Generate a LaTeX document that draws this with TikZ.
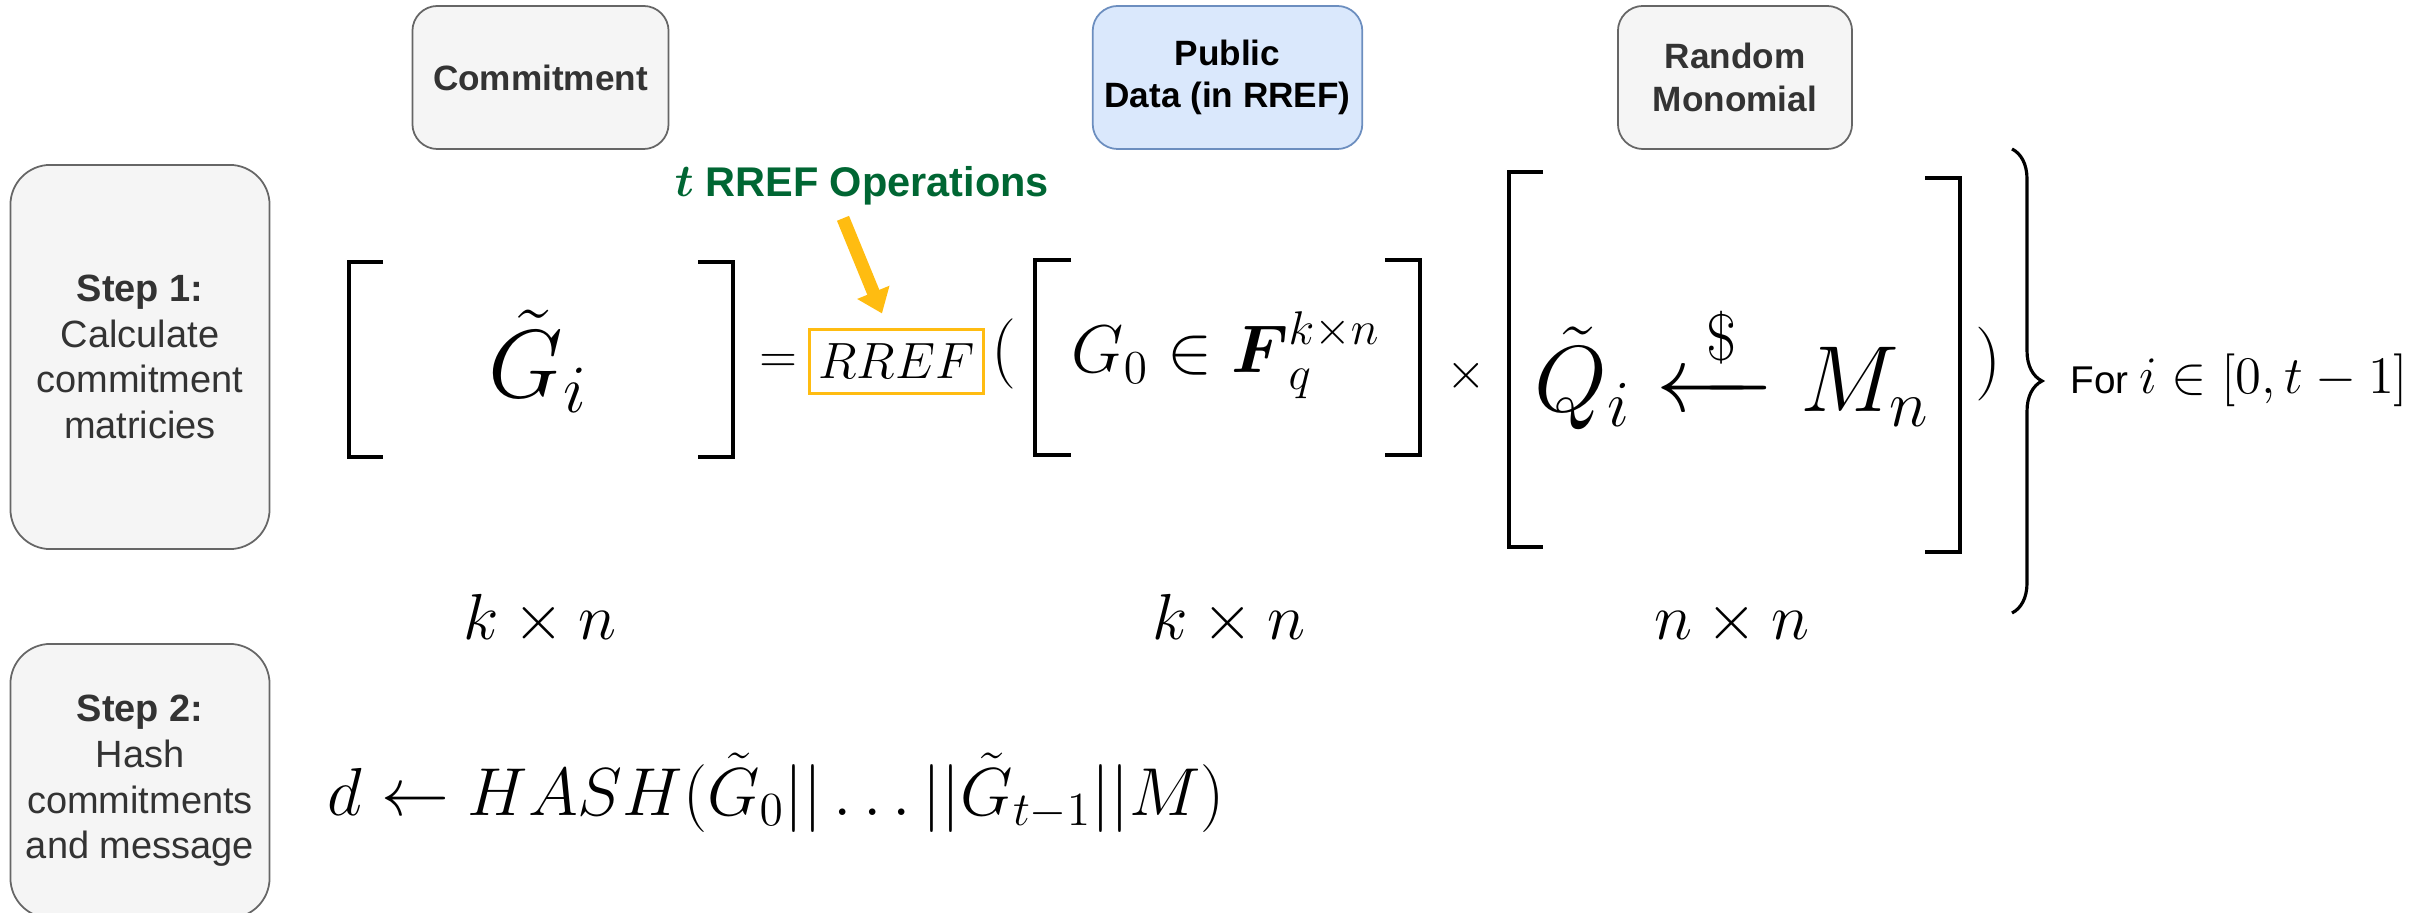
\RequirePackage{fix-cm}
\documentclass[tikz,border=0pt]{standalone}
\usepackage{amsmath}
\usepackage[no-math]{fontspec}
\newfontfamily\drawiofont{Liberation Sans}
\usepackage{tikz}
\usetikzlibrary{arrows.meta,positioning,decorations.pathreplacing}

\definecolor{boxfill}{HTML}{F5F5F5}
\definecolor{boxline}{HTML}{666666}
\definecolor{boxtext}{HTML}{333333}
\definecolor{pubfill}{HTML}{DAE8FC}
\definecolor{publine}{HTML}{6C8EBF}
\definecolor{opgreen}{HTML}{006633}
\definecolor{opyellow}{HTML}{FFBC11}

\newcommand{\msize}[1]{\fontsize{#1}{#1}\selectfont}

\begin{document}
\begin{tikzpicture}[
    x=0.01cm, y=-0.01cm,
    tagbox/.style={rectangle, rounded corners=0.25cm, draw=boxline, fill=boxfill, text=boxtext, line width=0.5pt, minimum width=2.56cm, minimum height=1.43cm, align=center, font=\drawiofont\bfseries\fontsize{10}{12}\selectfont},
    stepbox/.style={tagbox, rounded corners=0.4cm, minimum width=2.59cm, font=\drawiofont\fontsize{10.8}{13}\selectfont},
    eqn/.style={anchor=base, inner sep=0},
    mbracket/.style={line width=1.2pt},
    yarrow/.style={-{Triangle[length=6.5pt,width=9.5pt]}, line width=3.7pt, draw=opyellow}
]
\useasboundingbox (0,0) rectangle (2433,913);

% Header boxes
\node[tagbox] (commit) at (540.5,77.5) {Commitment};
\node[tagbox, fill=pubfill, draw=publine, text=black] (public) at (1227.5,77.5) {Public\\Data (in RREF)};
\node[tagbox, minimum width=2.34cm] (monomial) at (1735,77.5) {Random\\Monomial};

% Steps
\node[stepbox, minimum height=3.84cm] (step1) at (140,357) {\textbf{Step 1:}\\Calculate\\commitment\\matricies};
\node[stepbox, minimum height=2.74cm] (step2) at (140,781) {\textbf{Step 2:}\\Hash\\commitments\\and message};

% Step 1 equation
\node[eqn] (gi) at (538,398) {\msize{27.5}$\tilde{G}_i$};
\node[eqn] (eq) at (779,373) {\msize{14.2}$=$};
\node[draw=opyellow, line width=0.85pt, minimum width=1.73cm, minimum height=0.63cm, inner sep=0] (rref) at (896.5,361.5) {\msize{14.5}$RREF$};
\node[eqn] (lpar) at (1004,372) {\msize{20}$($};
\node[eqn] (g0) at (1226,373) {\msize{19.2}$G_0 \in \boldsymbol{F}_q^{k\times n}$};
\node[inner sep=0] (times) at (1466,376) {\msize{14.5}$\times$};
\node[eqn] (qi) at (1732,412) {\msize{26.7}$\tilde{Q}_i \xleftarrow{\;\$\;} M_n$};
\node[eqn] (rpar) at (1989,383) {\msize{21}$)$};
\node[anchor=base west, inner sep=0] (forall) at (2070,394) {{\drawiofont\fontsize{11}{13}\selectfont For }{\msize{15}$i\in[0,t-1]$}};

% Brackets
\draw[mbracket] (383,262) -- (349,262) -- (349,457) -- (383,457);
\draw[mbracket] (698,262) -- (733,262) -- (733,457) -- (698,457);
\draw[mbracket] (1071,260) -- (1035,260) -- (1035,455) -- (1071,455);
\draw[mbracket] (1385,260) -- (1420,260) -- (1420,455) -- (1385,455);
\draw[mbracket] (1543,172) -- (1509,172) -- (1509,547) -- (1543,547);
\draw[mbracket] (1925,178) -- (1960,178) -- (1960,552) -- (1925,552);
\draw[decorate, decoration={brace, amplitude=0.3cm}, line width=0.9pt] (2012,149) -- (2012,613);

% Sizes
\node[eqn] (kn1) at (540,640) {\msize{18.5}$k\times n$};
\node[eqn] (kn2) at (1229,640) {\msize{18.5}$k\times n$};
\node[eqn] (nn) at (1732,640) {\msize{18.5}$n\times n$};

% Step 2 equation
\node[anchor=base west, inner sep=0] (hash) at (327,815) {\msize{19.3}$d \leftarrow HASH(\tilde{G}_0||\ldots||\tilde{G}_{t-1}||M)$};

% RREF annotation
\node[eqn, text=opgreen, font=\drawiofont\bfseries\fontsize{11.8}{14}\selectfont] (ops) at (862,197) {{\msize{13}$\boldsymbol{t}$} RREF Operations};
\draw[yarrow] ([xshift=-0.19cm,yshift=-0.12cm]ops.south) -- ([xshift=-0.145cm,yshift=0.15cm]rref.north);

\end{tikzpicture}
\end{document}
